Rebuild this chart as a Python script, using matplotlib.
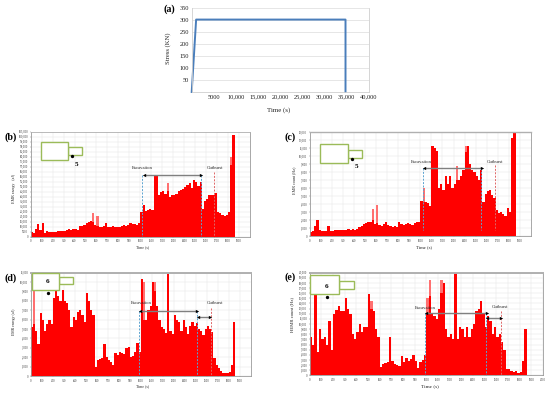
import numpy as np
import matplotlib
matplotlib.use("Agg")
import matplotlib.pyplot as plt
from matplotlib.patches import Rectangle

plt.rcParams['font.family'] = ['Liberation Serif', 'DejaVu Serif']

W, H = 550, 393
BIN = 20

stress_t = [0, 1000, 34700, 34700]
stress_v = [0, 300, 300, 0]

energy_b = [5,4,8,13,7,14,4,5.5,5,5,
            4.5,5,6,6,6,5.5,7,7.5,7,7.5,
            7.5,6.5,11,10.5,12,14,15,16,15,12,
            11,10,10,11,14,10,10,11,9.5,10,
            10,11,12,11,12,14,13,13,12,14,
            25,32,26,27,28,27,61,62,42,45,
            46,43,46,40,42,42,43,46,47,48,
            50,52,54,49,57,55,51,55,28,36,
            38,42,42,42,44,25,24,22,21,22,
            25,72,102]
peak_b_t = [560, 600, 1240, 1820]
peak_b_v = [23.5, 21, 54, 80]

count_c = [.5,.6,1.3,2.0,.8,.6,.6,.6,1.3,.6,
           .6,.7,.8,.8,.7,.8,.8,.9,.8,.9,
           .8,.9,1.1,1.3,1.5,1.6,1.7,1.8,2.0,1.5,
           1.6,1.4,1.3,1.5,1.7,1.4,1.2,1.1,1.2,1.1,
           1.7,1.5,1.4,1.5,1.6,1.5,1.4,1.6,1.8,1.7,
           4.4,4.2,4.2,4.1,3.8,11.2,11,10.6,6,6.5,
           5.7,7.5,6.5,7.5,6,6.5,7,7,7.5,8.2,
           10.5,11.2,9,8.3,8,7.5,7,8.2,4.2,5.2,
           5.6,5.8,5.1,4.8,3.3,2.9,3,2.7,2.5,3.5,
           3,12.2,13.2]
peak_c_t = [560, 600, 1020, 1320, 1400]
peak_c_v = [3.4, 3.9, 6.0, 8.7, 11.2]

energy_d = [5.2,5.5,4.8,3.4,6.7,6,4.8,5.5,6,5.5,
            8.3,9,8.5,8,9.2,8,7.8,7,5.2,6.3,
            6,6.8,7,6.5,5.8,8.8,8,7,6.5,1.0,
            1.7,1.8,1.9,3.4,2,1.7,1.5,1.2,2.5,2.2,
            2.6,2.4,2.3,3,3.1,2,2.1,2.6,3.5,2.6,
            10.3,6,6,7,7.5,10,9,7.5,6,5.2,
            5,4.6,11,4.8,4.5,6.5,6,5.7,4.8,6,
            5.2,4.5,5.3,5.7,5.3,5.6,5,4.8,4.4,5,
            5.3,5,4.7,1.9,1.2,.9,.5,.3,.3,.3,
            .4,1.2,5.7]
peak_d_t = [20, 1020, 1120]
peak_d_v = [9.2, 10, 10]

count_e = [7.5,6,15.8,4.5,9,7,7.5,6,10.5,5,
           12,12.8,13.5,12.5,12.5,15,13,12,8,7,
           8.5,10,8.5,9.5,9.5,15.8,13,12.5,9,7.5,
           1.7,2.3,2.4,2.5,7.4,2.8,2.2,2,1.8,3.7,
           2.5,3.3,2.7,3.2,4,2.8,1.5,2.5,3,4,
           12,15.5,12,11.5,11,13,16,18,9,7.5,
           8,7,20,7,9.5,9,7.5,9.5,7.5,9,
           10,12.5,13,14.5,12,9.5,11.5,10.5,8,9.5,
           7.5,8,6.5,5,1.2,1.2,.9,.7,.8,.5,
           .7,2.8,9.1]
peak_e_t = [1000, 1020, 520, 1120]
peak_e_v = [15, 18.6, 14.5, 18.5]


def ax_px(l, t, r, b):
    return fig.add_axes([l / W, 1 - b / H, (r - l) / W, (b - t) / H])


fig = plt.figure(figsize=(W / 100, H / 100), dpi=100)

# (a)
a = ax_px(191.7, 7.5, 369, 92)
a.plot(stress_t, stress_v, color='#4A7EBB', lw=1.4, clip_on=False)
a.set_xlim(0, 40000)
a.set_ylim(0, 350)
a.set_xticks(range(5000, 40001, 5000))
a.set_xticklabels(['5000'] + [f'{v:,}' for v in range(10000, 40001, 5000)])
a.set_yticks(range(50, 351, 50))
a.tick_params(labelsize=4.6, length=0, pad=2, labelcolor='#222222')
a.grid(axis='y', color='#e2e2e2', lw=.6)
a.set_axisbelow(True)
a.spines['top'].set_visible(False)
for s in ['left', 'bottom', 'right']:
    a.spines[s].set_color('#cfcfcf')
    a.spines[s].set_linewidth(.6)


def panel(box, vals, peak_t, peak_v, scale, ymax, ystep, xmax, xlast, border):
    ax = ax_px(*box)
    t = np.arange(len(vals)) * BIN
    ax.bar(peak_t, np.array(peak_v) * scale, width=BIN, align='edge', color='#ff7070', lw=0)
    ax.bar(t, np.array(vals) * scale, width=BIN, align='edge', color='#ff0000', lw=0)
    ax.set_xlim(0, xmax)
    ax.set_ylim(0, ymax)
    ax.set_xticks(range(0, xlast + 1, 100))
    ax.set_yticks(range(0, ymax + 1, ystep))
    ax.set_yticklabels([(f'{v:,}' if v >= 10000 or ystep == 1000 and v >= 1000 else str(v))
                        for v in range(0, ymax + 1, ystep)])
    ax.tick_params(labelsize=2.1, length=1, width=.3, pad=.8, color='#777777', labelcolor='#333333')
    ax.grid(color='#e6e6e6', lw=.35)
    ax.set_axisbelow(True)
    for s in ax.spines.values():
        s.set_color('#9a9a9a')
        s.set_linewidth(.6)
    ax.spines['top'].set_linewidth(border)
    ax.spines['top'].set_color('#b0b0b0')
    return ax


panel((30.7, 131.7, 250, 236.7), energy_b, peak_b_t, peak_b_v, 1000, 105000, 5000, 2000, 1900, .6)
panel((309.7, 132, 531, 236), count_c, peak_c_t, peak_c_v, 1000, 13000, 1000, 2000, 1900, 1.0)
panel((30.7, 272.7, 250.7, 376), energy_d, peak_d_t, peak_d_v, 1000, 11000, 1000, 2000, 1900, 1.4)
panel((309.7, 272.7, 543, 375.3), count_e, peak_e_t, peak_e_v, 1000, 20000, 1000, 2000, 2000, 1.4)

# overlay in pixel coordinates
ov = fig.add_axes([0, 0, 1, 1])
ov.set_xlim(0, W)
ov.set_ylim(H, 0)
ov.axis('off')
ov.patch.set_alpha(0)


def txt(x, y, s, size=3.6, **kw):
    kw.setdefault('ha', 'center')
    kw.setdefault('va', 'center')
    ov.text(x, y, s, fontsize=size, color=kw.pop('color', '#222222'), **kw)


def arrow(x0, x1, y):
    ov.plot([x0, x1], [y, y], color='#808080', lw=1.0, solid_capstyle='butt')
    ov.plot([x0], [y], marker='<', ms=2.4, color='black', mew=0)
    ov.plot([x1], [y], marker='>', ms=2.4, color='black', mew=0)


def shape(ox, oy, big, small, dot, num, numxy):
    for (x0, y0, x1, y1) in (small, big):
        ov.add_patch(Rectangle((ox + x0 / 3, oy + y0 / 3), (x1 - x0) / 3, (y1 - y0) / 3,
                               fc='white', ec='#9BBB59', lw=1.0))
    ov.plot([ox + dot[0] / 3], [oy + dot[1] / 3], 'o', ms=2.4, color='black', mew=0)
    txt(ox + numxy[0] / 3, oy + numxy[1] / 3, num, size=5.2, weight='bold', color='black')


def notes(ox, oy, xs, y_arrow, exc_xy, out_xy, bottom, second=None):
    blue = '#5BA3D0'
    for x in xs[:2]:
        ov.plot([ox + x / 3] * 2, [oy + y_arrow / 3, oy + bottom / 3], color=blue, lw=.7, ls=(0, (2, 1.5)))
    ov.plot([ox + xs[2] / 3] * 2, [oy + (y_arrow - 8) / 3, oy + bottom / 3], color='#E06666', lw=.7, ls=(0, (2, 1.5)))
    arrow(ox + (xs[0] + 4) / 3, ox + (xs[1] + 1) / 3, oy + y_arrow / 3)
    if second:
        arrow(ox + second[0] / 3, ox + second[1] / 3, oy + second[2] / 3)
    txt(ox + exc_xy[0] / 3, oy + exc_xy[1] / 3, 'Excavation', size=3.3)
    txt(ox + out_xy[0] / 3, oy + out_xy[1] / 3, 'Outburst', size=3.3)


notes(0, 125, (427, 603, 643), 150, (426, 130), (645, 130), 335)
notes(275, 125, (443, 619, 660), 128, (440, 111), (660, 111), 315)
notes(0, 260, (416, 591, 632), 152, (425, 128), (645, 128), 348, (595, 630, 170))
notes(275, 260, (449, 634, 677), 160, (450, 143), (675, 142), 346, (637, 678, 174))

shape(0, 125, (122, 50, 205, 105), (205, 67, 246, 90), (215, 94), '5', (228, 117))
shape(275, 125, (136, 58, 220, 115), (220, 76, 262, 98), (231, 102), '5', (243, 124))
shape(0, 260, (96, 38, 178, 90), (178, 51, 220, 73), (143, 98), '6', (142, 65))
shape(275, 260, (106, 45, 193, 103), (193, 62, 237, 86), (157, 112), '6', (156, 78))

txt(169, 9, '(a)', size=7.2, weight='bold', color='black')
txt(10.7, 136.7, '(b)', size=7.2, weight='bold', color='black')
txt(290, 136.7, '(c)', size=7.2, weight='bold', color='black')
txt(10.7, 277.7, '(d)', size=7.2, weight='bold', color='black')
txt(290, 277, '(e)', size=7.2, weight='bold', color='black')

txt(279, 110, 'Time (s)', size=5)
txt(168, 48, 'Stress (KN)', size=4.8, rotation=90)
txt(143, 247, 'Time (s)', size=2.8)
txt(424.5, 247, 'Time (s)', size=3.4)
txt(142.5, 386.5, 'Time (s)', size=2.8)
txt(430, 386.5, 'Time (s)', size=3.8)
txt(14.5, 188, 'EMR energy   (aJ)', size=2.9, rotation=90)
txt(294, 180, 'EMR count (Hz)', size=3, rotation=90)
txt(14.5, 322, 'EMR energy (aJ)', size=2.8, rotation=90)
txt(292.5, 315, 'HEMR count (Hz)', size=3.4, rotation=90)

fig.savefig('out.png', dpi=100)
